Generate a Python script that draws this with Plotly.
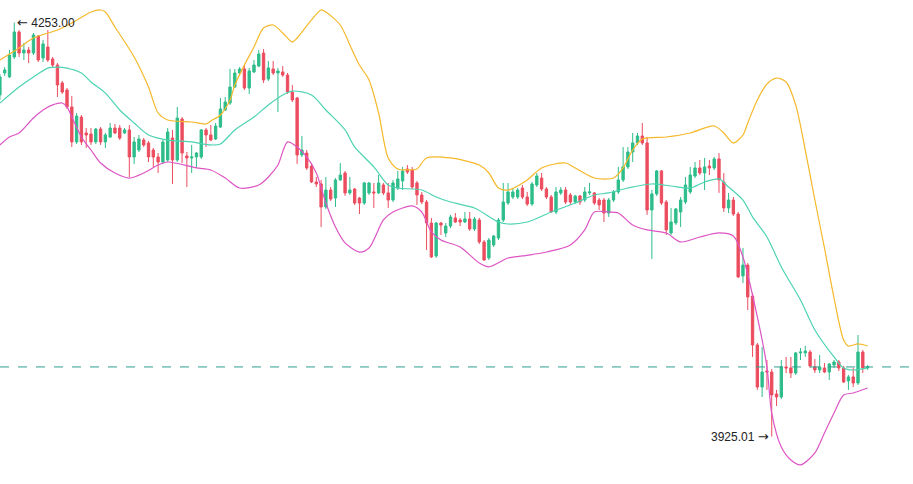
import plotly.graph_objects as go

opens = [4195.6,4213.0,4209.9,4225.7,4245.5,4228.8,4231.2,4228.8,4242.3,4224.9,
4233.6,4224.1,4219.3,4205.1,4199.5,4186.1,4158.4,4178.1,4165.5,4164.7,
4158.4,4168.6,4158.4,4162.3,4169.4,4169.4,4165.5,4167.9,4146.5,4152.0,
4159.9,4157.6,4152.0,4146.5,4142.5,4144.1,4161.5,4144.1,4176.5,4147.3,
4145.7,4146.5,4146.5,4167.9,4163.9,4160.7,4170.2,4183.7,4189.2,4201.9,
4213.0,4216.2,4201.1,4213.8,4218.5,4228.8,4208.2,4216.2,4213.0,4213.8,
4211.4,4197.9,4193.2,4148.1,4149.6,4139.3,4126.7,4125.1,4106.9,4120.3,
4114.0,4128.3,4133.8,4118.0,4121.1,4114.0,4110.0,4118.0,4118.8,4118.0,
4124.3,4118.0,4112.4,4121.9,4127.5,4137.0,4136.2,4125.9,4116.4,4110.8,
4094.2,4068.1,4094.2,4086.3,4091.8,4098.2,4096.6,4095.0,4097.4,4089.5,
4096.6,4079.2,4066.5,4076.8,4082.3,4096.6,4110.0,4114.8,4114.8,4121.9,
4114.8,4109.2,4124.3,4129.8,4121.1,4114.8,4102.9,4118.0,4120.3,4116.4,
4110.8,4115.6,4112.4,4118.0,4118.0,4112.4,4112.4,4102.1,4112.4,4118.8,
4128.3,4138.6,4150.4,4157.6,4163.1,4157.6,4104.5,4117.2,4135.4,4110.8,
4086.3,4094.2,4102.9,4110.8,4118.8,4131.4,4137.8,4133.8,4139.3,4137.8,
4144.9,4126.7,4106.1,4112.4,4101.3,4052.3,4060.9,4036.4,3997.6,3964.3,
3977.0,3976.2,3958.8,3956.4,3980.2,3979.4,3975.4,3991.3,3991.3,3992.0,
3980.2,3977.8,3979.4,3976.2,3981.7,3984.1,3979.4,3969.1,3972.3,3967.5,
3992.0,3979.4]

highs = [4212.2,4217.7,4231.2,4253.0,4247.0,4236.7,4233.6,4244.7,4243.1,4239.1,
4247.0,4225.7,4220.9,4206.7,4201.1,4194.8,4181.3,4179.7,4169.4,4169.4,
4169.4,4170.2,4165.5,4173.4,4172.6,4171.8,4169.4,4171.8,4162.3,4163.9,
4161.5,4159.1,4153.6,4149.6,4159.9,4169.4,4167.9,4186.1,4178.1,4150.4,
4156.0,4150.4,4168.6,4169.4,4171.8,4173.4,4193.2,4194.0,4216.2,4216.2,
4217.7,4219.3,4217.0,4223.3,4231.2,4232.0,4222.5,4222.5,4217.0,4218.5,
4213.0,4203.5,4194.0,4163.1,4152.0,4141.7,4130.6,4128.3,4130.6,4122.7,
4129.8,4141.7,4135.4,4130.6,4121.9,4114.8,4126.7,4126.7,4125.9,4132.2,
4125.9,4125.9,4128.3,4135.4,4138.6,4140.1,4138.6,4127.5,4118.8,4112.4,
4098.2,4095.0,4095.0,4094.2,4100.6,4102.1,4098.2,4102.9,4102.9,4099.0,
4098.2,4080.7,4082.3,4084.7,4098.2,4125.9,4125.9,4121.9,4121.9,4124.3,
4118.8,4126.7,4133.8,4133.8,4122.7,4116.4,4122.7,4122.7,4122.7,4118.0,
4116.4,4116.4,4122.7,4125.9,4118.8,4114.0,4114.0,4114.0,4120.3,4138.6,
4154.4,4154.4,4165.5,4165.5,4173.4,4162.3,4120.3,4136.2,4136.2,4112.4,
4106.1,4106.1,4114.8,4130.6,4138.6,4142.5,4144.1,4145.7,4144.1,4146.5,
4149.6,4133.8,4118.0,4114.8,4102.9,4074.4,4062.5,4038.8,3999.2,3996.0,
3985.7,3978.6,3962.0,3985.7,3988.1,3988.1,3992.0,3995.2,3996.8,3993.6,
3986.5,3989.7,3983.3,3983.3,3985.7,3985.7,3981.0,3973.9,3979.4,4005.5,
3993.6,3981.7]

lows = [4191.6,4210.6,4209.1,4224.1,4225.7,4223.3,4220.9,4227.2,4221.7,4221.7,
4221.7,4217.7,4194.0,4196.4,4184.5,4154.4,4156.8,4156.0,4153.6,4156.0,
4156.8,4156.0,4153.6,4161.5,4164.7,4159.9,4164.7,4130.6,4141.0,4150.4,
4154.4,4142.5,4138.6,4133.8,4141.0,4142.5,4125.1,4142.5,4141.7,4122.7,
4133.8,4137.8,4144.9,4154.4,4159.1,4159.9,4169.4,4182.9,4187.7,4201.1,
4211.4,4199.5,4196.4,4213.0,4217.7,4205.1,4206.7,4211.4,4182.1,4209.9,
4196.4,4190.0,4141.0,4146.5,4136.2,4125.9,4122.7,4091.0,4105.3,4111.6,
4106.9,4127.5,4115.6,4116.4,4108.5,4101.3,4108.5,4116.4,4106.1,4117.2,
4116.4,4106.1,4110.8,4120.3,4120.3,4133.0,4121.1,4108.5,4109.2,4072.8,
4066.5,4066.5,4084.7,4083.1,4090.2,4094.2,4091.8,4094.2,4087.9,4087.9,
4077.6,4064.1,4064.9,4075.2,4080.7,4095.0,4108.5,4113.2,4113.2,4113.2,
4107.7,4107.7,4122.7,4119.5,4113.2,4102.1,4101.3,4116.4,4109.2,4108.5,
4109.2,4108.5,4110.8,4116.4,4108.5,4104.5,4095.0,4099.0,4110.8,4117.2,
4126.7,4137.0,4142.5,4156.0,4156.0,4100.6,4065.7,4115.6,4108.5,4084.7,
4084.7,4092.6,4091.0,4109.2,4117.2,4129.8,4132.2,4120.3,4132.2,4136.2,
4118.0,4102.9,4102.1,4099.8,4050.7,4046.7,4025.3,3988.1,3962.0,3956.4,
3962.0,3925.01,3949.3,3954.8,3975.4,3971.5,3973.9,3985.7,3988.1,3979.4,
3975.4,3975.4,3975.4,3969.9,3979.4,3977.0,3967.5,3962.0,3964.3,3965.9,
3975.4,3977.8]

closes = [4209.9,4215.4,4227.2,4245.5,4228.8,4231.2,4228.8,4243.1,4223.3,4236.0,
4223.3,4219.3,4203.5,4197.9,4186.1,4158.4,4178.9,4158.4,4163.9,4158.4,
4168.6,4158.4,4163.9,4169.4,4165.5,4161.5,4167.9,4146.5,4158.4,4160.7,
4156.0,4146.5,4146.5,4142.5,4158.4,4166.3,4144.1,4177.3,4149.6,4145.7,
4146.5,4149.6,4167.9,4163.9,4159.9,4171.0,4184.5,4190.0,4201.9,4213.0,
4216.2,4201.1,4214.6,4219.3,4228.0,4207.5,4217.0,4213.0,4214.6,4211.4,
4197.9,4191.6,4148.1,4152.0,4137.8,4126.7,4125.1,4106.9,4120.3,4113.2,
4128.3,4132.2,4118.0,4120.3,4110.0,4110.0,4125.9,4125.9,4118.0,4125.9,
4118.0,4112.4,4125.9,4129.1,4135.4,4134.6,4122.7,4116.4,4110.8,4094.2,
4067.3,4094.2,4092.6,4091.8,4099.0,4095.0,4095.0,4097.4,4089.5,4097.4,
4079.2,4064.9,4080.7,4083.9,4096.6,4110.8,4118.8,4118.8,4120.3,4114.8,
4109.2,4125.1,4131.4,4121.1,4114.8,4102.9,4118.8,4120.3,4110.8,4110.8,
4115.6,4110.8,4118.8,4118.8,4110.0,4108.5,4102.1,4112.4,4118.8,4128.3,
4138.6,4150.4,4157.6,4163.1,4157.6,4104.5,4117.2,4135.4,4110.0,4088.7,
4095.0,4105.3,4112.4,4124.3,4132.2,4137.8,4133.8,4138.6,4137.8,4144.9,
4128.3,4106.1,4112.4,4101.3,4051.5,4060.9,4035.6,3997.6,3964.3,3976.2,
3976.2,3958.0,3956.4,3980.2,3979.4,3975.4,3991.3,3992.0,3992.8,3981.0,
3977.8,3980.2,3976.2,3982.5,3984.1,3979.4,3968.3,3972.3,3967.5,3992.0,
3979.4,3980.2]

idx = list(range(len(opens)))

upper_idx = [0,4,7,12,15,19,21,22,24,28,31,33,35,40,43,44,46,48,49,51,
53,55,57,59,61,62,65,67,68,71,73,75,77,79,81,83,85,87,89,94,
100,102,104,106,110,113,118,120,124,128,130,132,134,139,144,149,151,153,155,156,
158,160,162,164,166,168,170,172,174,176,177,179,181]
upper = [4223.3,4232.8,4240.7,4247.0,4252.6,4261.3,4262.9,4261.3,4249.4,4225.7,
4201.9,4181.3,4175.8,4174.2,4172.6,4175.0,4179.7,4191.6,4203.5,4219.3,
4233.6,4248.6,4251.0,4244.7,4237.5,4240.7,4255.0,4262.9,4261.3,4251.0,
4235.2,4219.3,4207.5,4181.3,4145.7,4137.0,4136.2,4137.0,4145.7,4145.7,
4140.1,4133.8,4121.9,4120.3,4128.3,4137.8,4141.7,4137.8,4129.8,4129.8,
4137.8,4152.0,4160.7,4162.3,4165.5,4171.0,4165.5,4157.6,4163.9,4173.4,
4191.6,4204.3,4209.0,4205.9,4187.7,4152.0,4112.4,4074.4,4034.8,4001.6,
3996.8,3998.4,3996.8]

mid_idx = [0,4,7,10,12,14,17,19,22,25,28,31,35,40,44,46,49,53,56,59,
61,65,68,72,74,78,81,83,88,91,94,99,104,106,110,115,120,124,127,131,
136,140,144,147,150,152,155,157,160,163,167,170,174,176,178,181]
mid = [4189.2,4201.9,4209.8,4216.9,4217.7,4216.9,4213.0,4205.9,4197.1,4183.7,
4173.4,4163.9,4159.9,4158.4,4156.0,4156.8,4167.9,4178.1,4187.7,4195.6,
4198.7,4195.6,4183.7,4167.9,4154.4,4138.6,4124.3,4121.9,4120.3,4114.8,
4110.8,4106.1,4095.0,4093.4,4095.0,4102.9,4110.0,4116.4,4118.0,4121.9,
4125.1,4123.5,4121.9,4126.7,4129.1,4122.7,4112.4,4099.0,4083.1,4059.4,
4033.2,4009.5,3988.1,3979.4,3977.8,3979.4]

lower_idx = [0,2,4,7,9,11,13,14,15,17,19,21,24,27,30,33,35,41,44,47,
50,54,56,58,60,62,64,66,68,70,72,75,77,80,82,86,88,90,92,96,
100,102,106,109,114,119,122,124,127,129,132,135,139,142,146,150,153,155,158,160,
161,163,165,167,170,172,174,176,178,181]
lower = [4156.0,4162.3,4165.5,4177.4,4183.7,4187.7,4189.2,4186.1,4178.1,4162.3,
4152.0,4141.7,4133.8,4129.8,4133.8,4140.1,4142.5,4137.8,4136.2,4129.8,
4121.9,4124.3,4130.6,4140.1,4158.4,4154.4,4146.5,4133.8,4110.0,4091.0,
4078.4,4071.2,4074.4,4096.6,4102.9,4107.7,4102.9,4087.1,4080.7,4075.2,
4062.5,4059.4,4066.5,4068.1,4071.2,4076.8,4088.7,4102.9,4102.9,4102.1,
4092.6,4088.7,4086.3,4079.2,4083.1,4086.3,4083.9,4067.3,4019.8,3980.2,
3943.7,3916.8,3906.5,3902.6,3912.1,3927.9,3943.7,3958.0,3959.6,3963.5]

high_value = "4253.00"
low_value = "3925.01"
ARROW_STYLE = "font-family:'DejaVu Sans';font-size:13px"
high_label = f"<span style=\"{ARROW_STYLE}\">←</span> {high_value}"
low_label = f"{low_value} <span style=\"{ARROW_STYLE}\">→</span>"

UP = "#2EBD8A"
DOWN = "#EB4D5F"

fig = go.Figure()
fig.add_trace(go.Scatter(x=upper_idx, y=upper, mode="lines",
                         line=dict(color="#F5B82A", width=1.2, shape="spline", smoothing=0.8),
                         hoverinfo="skip", showlegend=False))
fig.add_trace(go.Scatter(x=mid_idx, y=mid, mode="lines",
                         line=dict(color="#4CD3B2", width=1.2, shape="spline", smoothing=0.8),
                         hoverinfo="skip", showlegend=False))
fig.add_trace(go.Scatter(x=lower_idx, y=lower, mode="lines",
                         line=dict(color="#DD55C4", width=1.2, shape="spline", smoothing=0.8),
                         hoverinfo="skip", showlegend=False))
fig.add_trace(go.Candlestick(
    x=idx, open=opens, high=highs, low=lows, close=closes,
    increasing=dict(line=dict(color=UP, width=1), fillcolor=UP),
    decreasing=dict(line=dict(color=DOWN, width=1), fillcolor=DOWN),
    whiskerwidth=0, showlegend=False))

hi_i = highs.index(max(highs))
lo_i = lows.index(min(lows))
fig.add_annotation(x=hi_i, y=highs[hi_i], text=high_label, showarrow=False,
                   xanchor="left", yanchor="middle", xshift=1,
                   font=dict(family="Liberation Sans, Arial", size=12, color="#222"))
fig.add_annotation(x=lo_i, y=lows[lo_i], text=low_label, showarrow=False,
                   xanchor="right", yanchor="middle", xshift=-1,
                   font=dict(family="Liberation Sans, Arial", size=12, color="#222"))

fig.add_shape(type="line", xref="paper", x0=0, x1=1, yref="y",
              y0=closes[-1], y1=closes[-1],
              line=dict(color="#2E9E8E", width=1, dash="dash"))

fig.update_layout(
    width=913, height=484,
    margin=dict(l=0, r=0, t=0, b=0),
    paper_bgcolor="white", plot_bgcolor="white",
    xaxis=dict(visible=False, range=[0.02, 190.47], rangeslider=dict(visible=False)),
    yaxis=dict(visible=False, range=[3887.5, 4270.8]),
    boxgap=0.3,
)

fig.write_html("out.html", config={"displayModeBar": False},
               post_script="document.body.style.margin='0';document.body.style.overflow='hidden';")
